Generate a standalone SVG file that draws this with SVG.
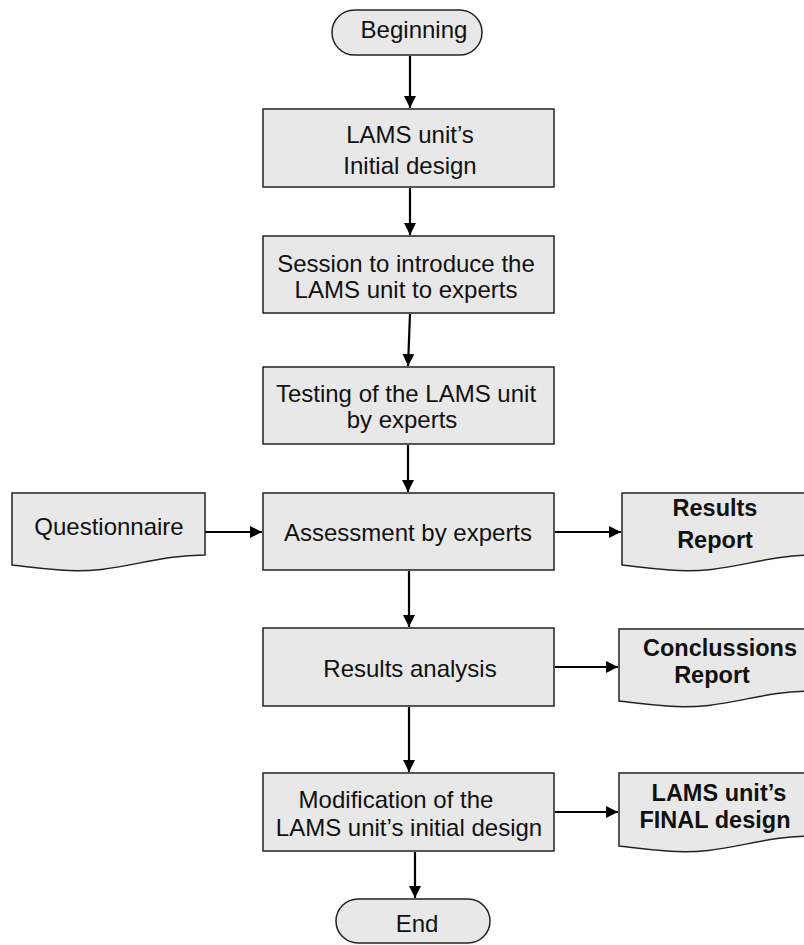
<svg xmlns="http://www.w3.org/2000/svg" width="804" height="945" viewBox="0 0 804 945">
<style>
.shape{fill:#e8e8e8;stroke:#222;stroke-width:1.5}
.t{font-family:"Liberation Sans",Arial,sans-serif;font-size:24px;fill:#111;text-anchor:middle}
.b{font-weight:bold;font-size:23.5px}
.c{stroke:#000;stroke-width:2.2;fill:none;marker-end:url(#ah)}
</style>
<defs>
<marker id="ah" markerUnits="userSpaceOnUse" markerWidth="12" markerHeight="12" viewBox="0 0 12 12" refX="12" refY="6" orient="auto">
<path d="M0,0 L12,6 L0,12 Z" fill="#000"/>
</marker>
</defs>
<rect width="804" height="945" fill="#fff"/>
<g id="connectors">
<line class="c" x1="410" y1="56" x2="410" y2="108"/>
<line class="c" x1="410" y1="188" x2="410" y2="235"/>
<line class="c" x1="410" y1="314" x2="408" y2="366"/>
<line class="c" x1="408" y1="445" x2="408" y2="492"/>
<line class="c" x1="409" y1="571" x2="409" y2="627"/>
<line class="c" x1="409" y1="707" x2="409" y2="772"/>
<line class="c" x1="415" y1="852" x2="415" y2="898"/>
<line class="c" x1="205" y1="532" x2="262" y2="532"/>
<line class="c" x1="555" y1="532" x2="621" y2="532"/>
<line class="c" x1="555" y1="667" x2="618" y2="667"/>
<line class="c" x1="555" y1="812" x2="618" y2="812"/>
</g>
<g id="beginning">
<rect class="shape" x="332" y="10" width="150" height="45" rx="22.5"/>
<text class="t" x="414" y="38">Beginning</text>
</g>
<g id="initial-design">
<rect class="shape" x="263" y="109" width="291" height="78"/>
<text class="t" x="410" y="143">LAMS unit’s</text>
<text class="t" x="410" y="174">Initial design</text>
</g>
<g id="session">
<rect class="shape" x="263" y="236" width="291" height="77"/>
<text class="t" x="406" y="272">Session to introduce the</text>
<text class="t" x="406" y="298">LAMS unit to experts</text>
</g>
<g id="testing">
<rect class="shape" x="263" y="367" width="291" height="77"/>
<text class="t" x="406" y="402">Testing of the LAMS unit</text>
<text class="t" x="402" y="428">by experts</text>
</g>
<g id="questionnaire">
<path class="shape" d="M12,493 H205 V555 C150,555 115,575 60,570 C35,568 22,566 12,565 Z"/>
<text class="t" x="109" y="535">Questionnaire</text>
</g>
<g id="assessment">
<rect class="shape" x="263" y="493" width="291" height="77"/>
<text class="t" x="408" y="541">Assessment by experts</text>
</g>
<g id="results-report">
<path class="shape" d="M622,493 H815 V555 C760,555 725,575 670,570 C645,568 632,566 622,565 Z"/>
<text class="t b" x="715" y="516">Results</text>
<text class="t b" x="715" y="548">Report</text>
</g>
<g id="results-analysis">
<rect class="shape" x="263" y="628" width="291" height="78"/>
<text class="t" x="410" y="677">Results analysis</text>
</g>
<g id="conclussions-report">
<path class="shape" d="M619,629 H812 V691 C757,691 722,711 667,706 C642,704 629,702 619,701 Z"/>
<text class="t b" x="720" y="656">Conclussions</text>
<text class="t b" x="712" y="683">Report</text>
</g>
<g id="modification">
<rect class="shape" x="263" y="773" width="291" height="78"/>
<text class="t" x="396" y="808">Modification of the</text>
<text class="t" x="409" y="836">LAMS unit’s initial design</text>
</g>
<g id="final-design">
<path class="shape" d="M619,773 H812 V836 C757,836 722,856 667,851 C642,849 629,847 619,846 Z"/>
<text class="t b" x="719" y="801">LAMS unit’s</text>
<text class="t b" x="715" y="828">FINAL design</text>
</g>
<g id="end">
<rect class="shape" x="336" y="899" width="154" height="44" rx="22"/>
<text class="t" x="417" y="932">End</text>
</g>
</svg>
